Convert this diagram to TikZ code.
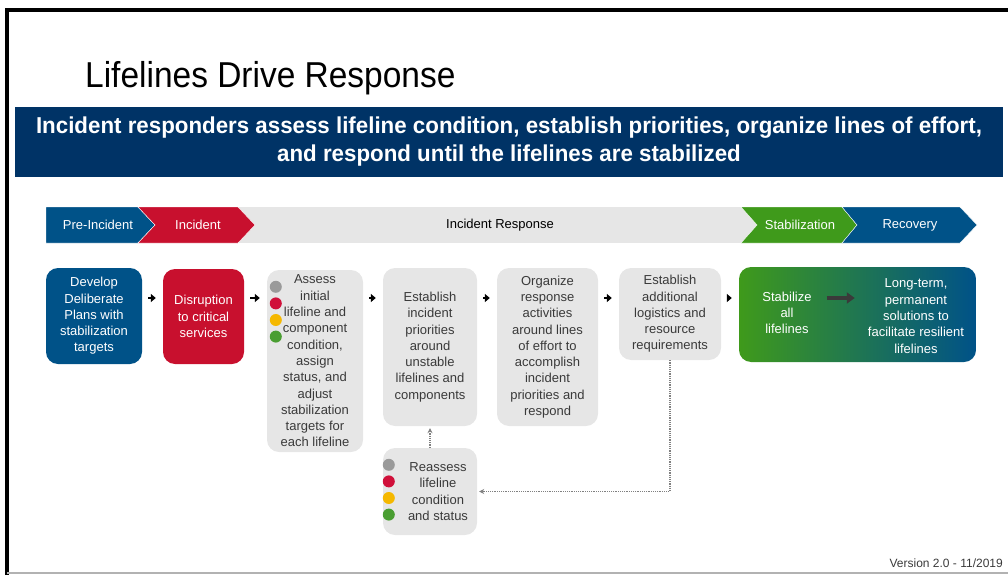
\documentclass[tikz,border=0pt]{standalone}
\usepackage{fontspec}
\setmainfont{Liberation Sans}
\newfontfamily\titlefont[FakeStretch=0.93]{Liberation Sans}
\newfontfamily\bannerfont[FakeStretch=0.97]{Liberation Sans}
\usetikzlibrary{arrows.meta}
\definecolor{fnavy}{HTML}{003366}
\definecolor{fblue}{HTML}{005288}
\definecolor{fred}{HTML}{C8102E}
\definecolor{fgreen}{HTML}{3F9A1B}
\definecolor{fgrey}{HTML}{E6E6E6}
\definecolor{ftext}{HTML}{3A3A3A}
\definecolor{dotgrey}{HTML}{9A9A9A}
\definecolor{dotred}{HTML}{D0103A}
\definecolor{dotyellow}{HTML}{F5B800}
\definecolor{dotgreen}{HTML}{4A9E32}
\tikzset{
  >=latex,
}
\tikzstyle{box}=[rounded corners=12pt,inner sep=0pt,align=center,font=\fontsize{13}{16.3}\selectfont]
\tikzstyle{greybox}=[box,fill=fgrey,text=ftext]
\tikzstyle{colbox}=[box,text=white]
\tikzstyle{flow}=[line width=2.5pt,-{Triangle[length=5pt,width=8pt]},shorten <=6pt,shorten >=7pt]
\tikzstyle{loopline}=[densely dotted,line width=1.2pt,draw=gray,-{Stealth[length=5pt,width=5pt]},shorten >=2pt]
\tikzstyle{phase}=[text=white,font=\fontsize{13}{15}\selectfont]

\begin{document}
\begin{tikzpicture}[x=1pt,y=-1pt]
    \useasboundingbox (0,0) rectangle (1008,575);
    % frame
    \draw[line width=4pt] (7,575) -- (7,10) -- (1008,10);
    \draw[gray!60,line width=1.5pt] (7,573) -- (1008,573);
    % heading
    \node[anchor=base west,inner sep=0pt,font=\titlefont\fontsize{36}{40}\selectfont] (title) at (85,88) {Lifelines Drive Response};
    \node[fill=fnavy,minimum width=988pt,minimum height=70pt,text=white,align=center,
      font=\bannerfont\bfseries\fontsize{23}{28}\selectfont] (banner) at (509,142)
      {Incident responders assess lifeline condition, establish priorities, organize lines of effort,\\
       and respond until the lifelines are stabilized};
    % phase bar
    \fill[fgrey] (46,207) rectangle (757,243);
    \filldraw[fblue,draw=white] (46,207) -- (138,207) -- (155,225) -- (138,243) -- (46,243) -- cycle;
    \filldraw[fred,draw=white] (138,207) -- (238,207) -- (255,225) -- (238,243) -- (138,243) -- (155,225) -- cycle;
    \filldraw[fgreen,draw=white] (741,207) -- (842,207) -- (857,225) -- (842,243) -- (741,243) -- (757,225) -- cycle;
    \filldraw[fblue,draw=white] (842,207) -- (960,207) -- (977,225) -- (960,243) -- (842,243) -- (857,225) -- cycle;
    \node[phase] (pre) at (98,225) {Pre-Incident};
    \node[phase] (inc) at (198,225) {Incident};
    \node[phase,text=black] (resp) at (500,225) {Incident Response};
    \node[phase] (stabl) at (800,225) {Stabilization};
    \node[phase] (rec) at (910,225) {Recovery};
    % boxes
    \node[colbox,fill=fblue,minimum width=96pt,minimum height=96pt] (b1) at (94,316)
      {Develop\\Deliberate\\Plans with\\stabilization\\targets};
    \node[colbox,fill=fred,minimum width=81pt,minimum height=95pt] (b2) at (203.5,316.5)
      {Disruption\\to critical\\services};
    \node[greybox,minimum width=96pt,minimum height=182pt] (b3) at (315,361)
      {Assess\\initial\\lifeline and\\component\\condition,\\assign\\status, and\\adjust\\stabilization\\targets for\\each lifeline};
    \node[greybox,minimum width=94pt,minimum height=158pt] (b4) at (430,347)
      {Establish\\incident\\priorities\\around\\unstable\\lifelines and\\components};
    \node[greybox,minimum width=101pt,minimum height=158pt] (b5) at (547.5,347)
      {Organize\\response\\activities\\around lines\\of effort to\\accomplish\\incident\\priorities and\\respond};
    \node[greybox,minimum width=102pt,minimum height=92pt] (b6) at (670,314)
      {Establish\\additional\\logistics and\\resource\\requirements};
    \node[box,left color=fgreen,right color=fblue,minimum width=237pt,minimum height=95pt] (b7) at (857.5,314.5) {};
    \node[box,fill=none,text=white] (stab) at (787,313) {Stabilize\\all\\lifelines};
    \node[box,fill=none,text=white] (long) at (916,316) {Long-term,\\permanent\\solutions to\\facilitate resilient\\lifelines};
    \node[greybox,minimum width=94pt,minimum height=87pt] (b8) at (430,491.5) {};
    \node[box,text=ftext] (recheck) at (438,491.5) {Reassess\\lifeline\\condition\\and status};
    % status dots
    \foreach \c [count=\i] in {dotgrey,dotred,dotyellow,dotgreen}{
      \fill[\c] (b3.north west) ++(9,{17+16.6*(\i-1)}) circle (6pt);
      \fill[\c] (b8.north west) ++(6,{17+16.6*(\i-1)}) circle (6pt);
    }
    % connectors
    \coordinate (row) at (0,298);
    \draw[flow] (b1.east |- row) -- (b2.west |- row);
    \draw[flow] (b2.east |- row) -- (b3.west |- row);
    \draw[flow] (b3.east |- row) -- (b4.west |- row);
    \draw[flow] (b4.east |- row) -- (b5.west |- row);
    \draw[flow] (b5.east |- row) -- (b6.west |- row);
    \draw[flow] (b6.east |- row) -- (b7.west |- row);
    \draw[line width=4.5pt,draw=ftext,-{Triangle[length=8pt,width=11pt]},shorten <=15pt,shorten >=13pt]
      (stab.east |- row) -- (long.west |- row);
    \draw[loopline] (b6.south) |- (b8.east);
    \draw[loopline] (b8.north) -- (b4.south);
    \node[anchor=base east,inner sep=0pt,text=ftext,font=\fontsize{12}{14}\selectfont] (ver) at (1003,567) {Version 2.0 - 11/2019};
\end{tikzpicture}
\end{document}
